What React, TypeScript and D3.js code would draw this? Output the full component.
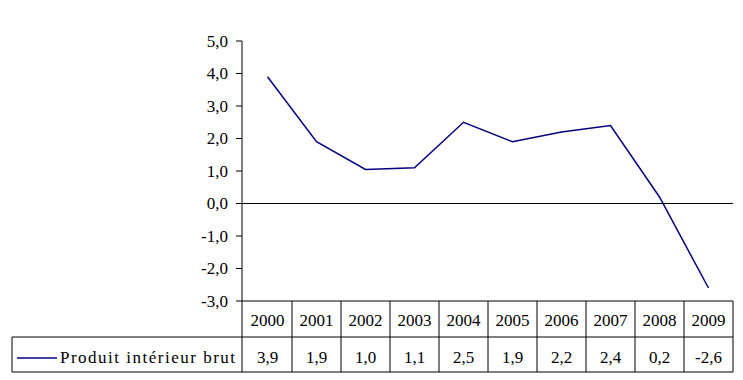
import React from "react";
import * as d3 from "d3";

const years = ["2000", "2001", "2002", "2003", "2004", "2005", "2006", "2007", "2008", "2009"];
const gdp = [3.9, 1.9, 1.05, 1.1, 2.5, 1.9, 2.2, 2.4, 0.2, -2.6];
const tableValues = ["3,9", "1,9", "1,0", "1,1", "2,5", "1,9", "2,2", "2,4", "0,2", "-2,6"];
const yTicks = [5, 4, 3, 2, 1, 0, -1, -2, -3];
const seriesName = "Produit intérieur brut";

const W = 743;
const H = 380;
const FONT = "'Liberation Serif', 'Times New Roman', serif";

export default function App() {
  const x = d3.scaleBand<string>().domain(years).range([243, 733]);
  const y = d3.scaleLinear().domain([-3, 5]).range([301, 41]);
  const line = d3
    .line<number>()
    .x((_, i) => (x(years[i]) as number) + x.bandwidth() / 2)
    .y((d) => y(d));

  const row1Top = 301;
  const row1Bot = 337;
  const row2Bot = 372;
  const left = 12;
  const right = 733;
  const axisX = 242;
  const fmt = (v: number) => v.toFixed(1).replace(".", ",");
  const ts: React.CSSProperties = { fontFamily: FONT, fontSize: 17 };

  return (
    <svg width={W} height={H} style={{ position: "absolute", left: 0, top: 0, background: "#fff" }}>
      <rect x={0} y={0} width={W} height={H} fill="#fff" />
      <line x1={axisX} x2={axisX} y1={y(5)} y2={y(-3)} stroke="#000" strokeWidth={1} />
      {yTicks.map((t) => (
        <g key={t}>
          <line x1={axisX - 6} x2={axisX} y1={y(t)} y2={y(t)} stroke="#000" strokeWidth={1} />
          <text x={228} y={y(t)} dy="0.35em" textAnchor="end" style={ts} fill="#000">
            {fmt(t)}
          </text>
        </g>
      ))}
      <line x1={axisX} x2={right} y1={y(0)} y2={y(0)} stroke="#000" strokeWidth={1} />
      <path d={line(gdp) || ""} fill="none" stroke="#000080" strokeWidth={1.5} />
      <g stroke="#000" strokeWidth={1} fill="none">
        <line x1={axisX} x2={right} y1={row1Top} y2={row1Top} />
        <line x1={left} x2={right} y1={row1Bot} y2={row1Bot} />
        <line x1={left} x2={right} y1={row2Bot} y2={row2Bot} />
        <line x1={left} x2={left} y1={row1Bot} y2={row2Bot} />
        <line x1={axisX} x2={axisX} y1={row1Top} y2={row2Bot} />
        {years.map((yr) => {
          const xe = (x(yr) as number) + x.bandwidth();
          return <line key={yr} x1={xe} x2={xe} y1={row1Top} y2={row2Bot} />;
        })}
      </g>
      {years.map((yr, i) => {
        const cx = (x(yr) as number) + x.bandwidth() / 2;
        return (
          <g key={yr}>
            <text x={cx} y={326} textAnchor="middle" style={ts} fill="#000">
              {yr}
            </text>
            <text x={cx} y={363} textAnchor="middle" style={ts} fill="#000">
              {tableValues[i]}
            </text>
          </g>
        );
      })}
      <line x1={17} x2={57} y1={358} y2={358} stroke="#000080" strokeWidth={1.5} />
      <text x={60} y={363} textAnchor="start" style={{ ...ts, letterSpacing: 1.5 }} fill="#000">
        {seriesName}
      </text>
    </svg>
  );
}
